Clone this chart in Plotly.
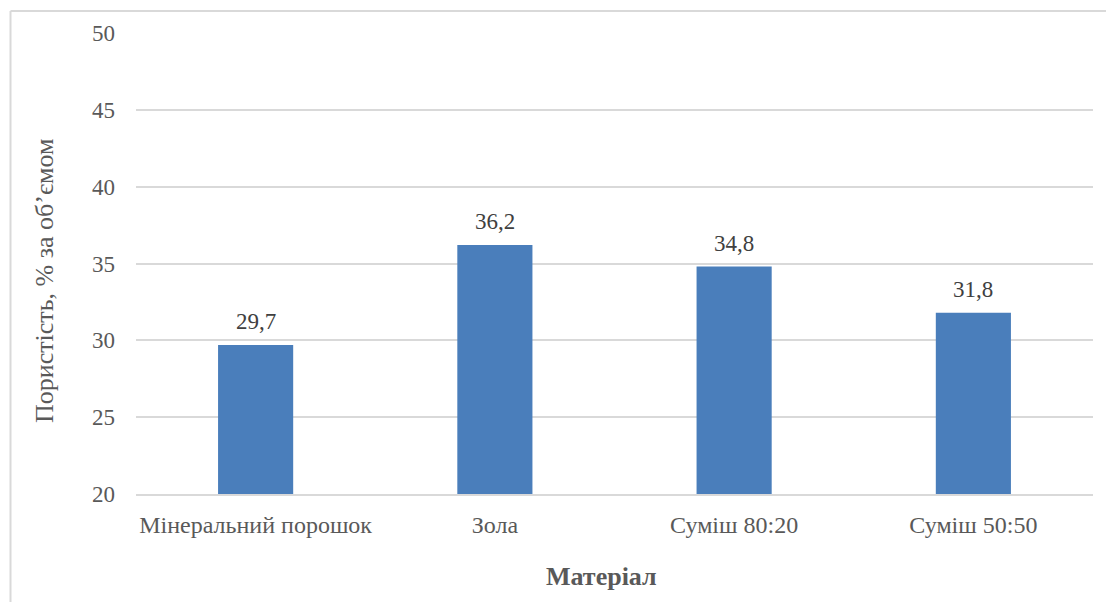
import plotly.graph_objects as go

# Porosity of the filler materials, % by volume
materials = ["Мінеральний порошок", "Зола", "Суміш 80:20", "Суміш 50:50"]
porosity = [29.7, 36.2, 34.8, 31.8]
y_ticks = [20, 25, 30, 35, 40, 45, 50]

W, H = 1106, 602
L, R, T, B = 136, 13, 33, 108
plot_w = W - L - R
plot_h = H - T - B


def px_x(px):
    return (px - L) / plot_w


def px_y(py):
    return (H - B - py) / plot_h


serif = "'Times New Roman', 'Liberation Serif', serif"
grey = "#595959"

fig = go.Figure()
fig.add_trace(go.Bar(
    x=materials,
    y=porosity,
    marker=dict(color="#4a7ebb", line=dict(width=0)),
    hoverinfo="x+y",
))

# value labels above the bars
for m, v in zip(materials, porosity):
    fig.add_annotation(
        x=m, y=v, xref="x", yref="y",
        text=f"{v:.1f}".replace(".", ","),
        showarrow=False, yanchor="bottom", yshift=9,
        font=dict(family=serif, size=23, color="#404040"),
    )

# axis titles
fig.add_annotation(
    x=px_x(44), y=px_y(281), xref="paper", yref="paper",
    text="Пористість, % за обʼємом", textangle=-90,
    showarrow=False, xanchor="center", yanchor="middle",
    font=dict(family=serif, size=26, color=grey),
)
fig.add_annotation(
    x=px_x(601), y=px_y(576), xref="paper", yref="paper",
    text="<b>Матеріал</b>",
    showarrow=False, xanchor="center", yanchor="middle",
    font=dict(family=serif, size=26, color=grey),
)

# outer chart frame (left and top edges visible)
fig.add_shape(type="line", xref="paper", yref="paper",
              x0=px_x(10.5), x1=px_x(10.5), y0=px_y(11), y1=px_y(610),
              line=dict(color="#d9d9d9", width=2))
fig.add_shape(type="line", xref="paper", yref="paper",
              x0=px_x(10.5), x1=px_x(1110), y0=px_y(11), y1=px_y(11),
              line=dict(color="#d9d9d9", width=2))

fig.update_layout(
    width=W, height=H,
    margin=dict(l=L, r=R, t=T, b=B),
    paper_bgcolor="white", plot_bgcolor="white",
    showlegend=False,
    bargap=0.686,
    font=dict(family=serif, size=23, color=grey),
)
fig.update_xaxes(
    showgrid=False, showline=True, linecolor="#d9d9d9", linewidth=2,
    ticks="", tickfont=dict(family=serif, size=24, color=grey),
    ticklabelstandoff=8,
)
fig.update_yaxes(
    range=[20, 50], tickvals=y_ticks,
    showgrid=True, gridcolor="#d9d9d9", gridwidth=1.5,
    zeroline=False, showline=False, ticks="",
    tickfont=dict(family=serif, size=23, color=grey),
    ticklabelstandoff=20,
)

fig.write_html("out.html")
